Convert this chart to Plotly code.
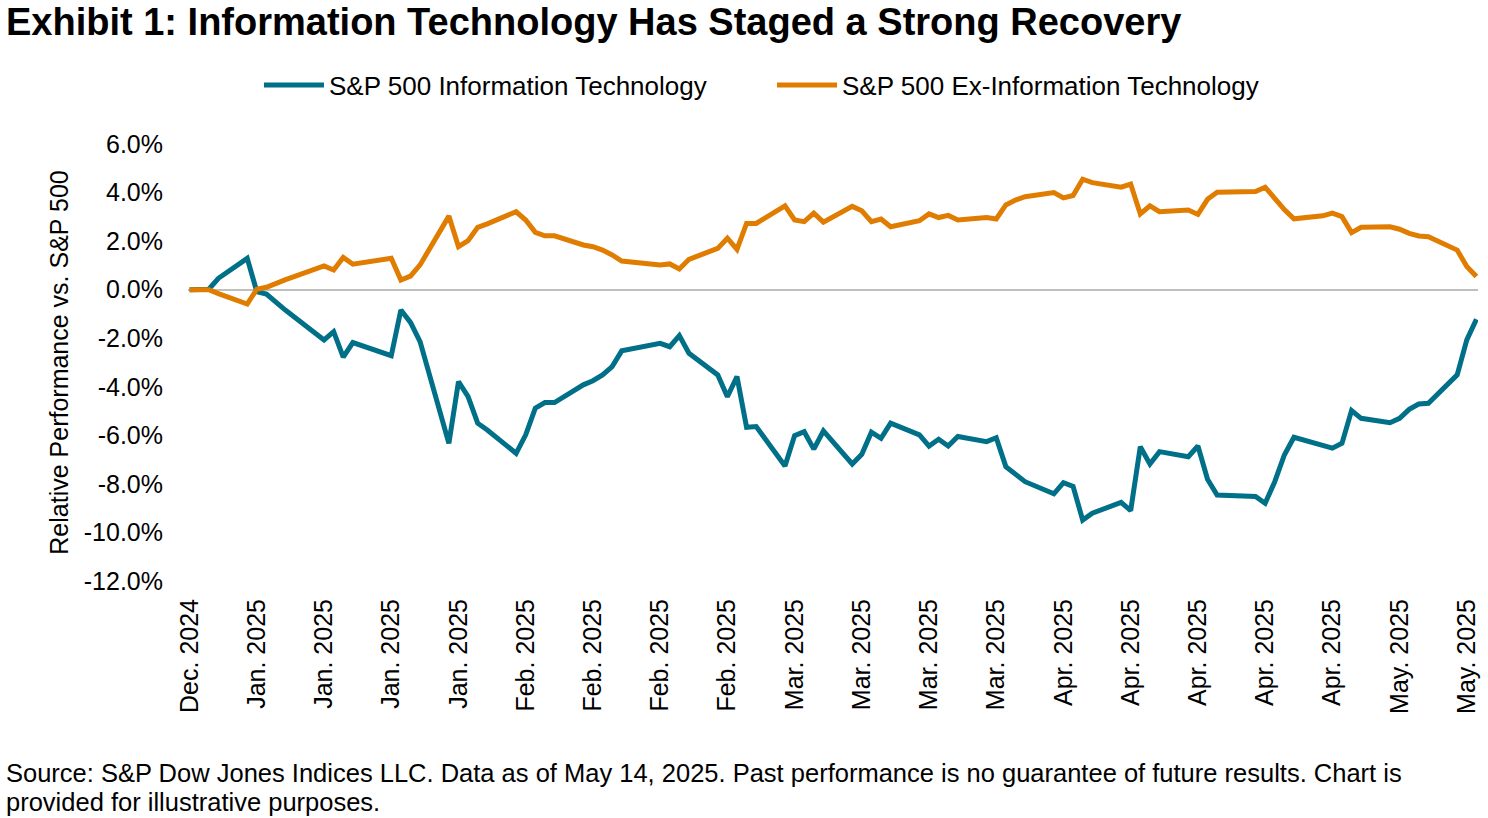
import plotly.graph_objects as go
import pandas as pd

dates = [
    "2024-12-31",
    "2025-01-02", "2025-01-03", "2025-01-06", "2025-01-07", "2025-01-08", "2025-01-10",
    "2025-01-13", "2025-01-14", "2025-01-15", "2025-01-16", "2025-01-17", "2025-01-21",
    "2025-01-22", "2025-01-23", "2025-01-24", "2025-01-27", "2025-01-28", "2025-01-29",
    "2025-01-30", "2025-01-31",
    "2025-02-03", "2025-02-04", "2025-02-05", "2025-02-06", "2025-02-07", "2025-02-10",
    "2025-02-11", "2025-02-12", "2025-02-13", "2025-02-14", "2025-02-18", "2025-02-19",
    "2025-02-20", "2025-02-21", "2025-02-24", "2025-02-25", "2025-02-26", "2025-02-27",
    "2025-02-28",
    "2025-03-03", "2025-03-04", "2025-03-05", "2025-03-06", "2025-03-07", "2025-03-10",
    "2025-03-11", "2025-03-12", "2025-03-13", "2025-03-14", "2025-03-17", "2025-03-18",
    "2025-03-19", "2025-03-20", "2025-03-21", "2025-03-24", "2025-03-25", "2025-03-26",
    "2025-03-27", "2025-03-28", "2025-03-31",
    "2025-04-01", "2025-04-02", "2025-04-03", "2025-04-04", "2025-04-07", "2025-04-08",
    "2025-04-09", "2025-04-10", "2025-04-11", "2025-04-14", "2025-04-15", "2025-04-16",
    "2025-04-17", "2025-04-21", "2025-04-22", "2025-04-23", "2025-04-24", "2025-04-25",
    "2025-04-28", "2025-04-29", "2025-04-30",
    "2025-05-01", "2025-05-02", "2025-05-05", "2025-05-06", "2025-05-07", "2025-05-08",
    "2025-05-09", "2025-05-12", "2025-05-13", "2025-05-14",
]

info_tech = [
    0.00,
    0.02, 0.47, 1.29, -0.08, -0.18, -0.85,
    -1.80, -2.07, -1.73, -2.78, -2.18, -2.72,
    -0.84, -1.35, -2.14, -6.33, -3.79, -4.41,
    -5.50, -5.78,
    -6.74, -5.98, -4.88, -4.65, -4.65, -3.92,
    -3.75, -3.51, -3.17, -2.52, -2.21, -2.35,
    -1.89, -2.62, -3.51, -4.41, -3.58, -5.67,
    -5.64,
    -7.26, -6.01, -5.85, -6.57, -5.82, -7.18,
    -6.78, -5.87, -6.12, -5.50, -5.98, -6.44,
    -6.16, -6.44, -6.05, -6.26, -6.10, -7.29,
    -7.59, -7.91, -8.41,
    -7.95, -8.10, -9.49, -9.21, -8.76, -9.10,
    -6.47, -7.18, -6.67, -6.88, -6.44, -7.81,
    -8.46, -8.52, -8.80, -7.91, -6.81, -6.08,
    -6.42, -6.53, -6.33,
    -4.98, -5.30, -5.48, -5.30, -4.93, -4.71,
    -4.68, -3.51, -2.07, -1.22,
]

ex_info_tech = [
    0.00,
    0.00, -0.16, -0.59, 0.02, 0.10, 0.41,
    0.85, 0.98, 0.81, 1.33, 1.05, 1.29,
    0.40, 0.56, 1.02, 3.03, 1.77, 2.02,
    2.57, 2.71,
    3.21, 2.87, 2.36, 2.22, 2.22, 1.84,
    1.77, 1.63, 1.43, 1.18, 1.02, 1.06,
    0.85, 1.25, 1.70, 2.12, 1.66, 2.73,
    2.73,
    3.45, 2.87, 2.80, 3.15, 2.78, 3.43,
    3.25, 2.80, 2.91, 2.59, 2.84, 3.12,
    2.97, 3.06, 2.87, 2.97, 2.91, 3.49,
    3.69, 3.83, 4.00,
    3.78, 3.88, 4.55, 4.41, 4.22, 4.35,
    3.12, 3.45, 3.21, 3.28, 3.10, 3.72,
    4.01, 4.04, 4.22, 3.76, 3.30, 2.92,
    3.04, 3.15, 3.01,
    2.35, 2.57, 2.59, 2.49, 2.32, 2.21,
    2.18, 1.63, 0.95, 0.54,
]

series_names = ["S&P 500 Information Technology", "S&P 500 Ex-Information Technology"]
series_colors = ["#006F88", "#E07C00"]

y_ticks = [6, 4, 2, 0, -2, -4, -6, -8, -10, -12]
y_tick_text = [f"{v:.1f}%" for v in y_ticks]
x_tick_dates = pd.date_range("2024-12-31", "2025-05-13", freq="7D")
x_tick_text = [d.strftime("%b. %Y") for d in x_tick_dates]

title_text = "Exhibit 1: Information Technology Has Staged a Strong Recovery"
y_title = "Relative Performance vs. S&P 500"
source_line1 = ("Source: S&P Dow Jones Indices LLC. Data as of May 14, 2025. "
                "Past performance is no guarantee of future results. Chart is")
source_line2 = "provided for illustrative purposes."

FONT = "Liberation Sans, Arial, sans-serif"
FS = 25

fig = go.Figure()
for name, vals, col in zip(series_names, [info_tech, ex_info_tech], series_colors):
    fig.add_trace(go.Scatter(
        x=dates, y=vals, name=name, mode="lines",
        line=dict(color=col, width=5),
    ))

W, H = 1488, 818
L, R, T, B = 188, 10, 144, 237
pw, ph = W - L - R, H - T - B

def px_x(x):
    return (x - L) / pw

def px_y(y):
    return (H - B - y) / ph

fig.update_layout(
    width=W, height=H,
    margin=dict(l=L, r=R, t=T, b=B, autoexpand=False),
    paper_bgcolor="white", plot_bgcolor="white",
    font=dict(family=FONT, size=FS, color="black"),
    showlegend=True,
    legend=dict(
        orientation="h", x=px_x(259), xanchor="left", y=px_y(85), yanchor="middle",
        font=dict(size=26, color="black"), itemwidth=60, tracegroupgap=0,
        entrywidth=438, entrywidthmode="pixels",
        traceorder="normal",
    ),
    title=dict(
        text="<b>" + title_text + "</b>",
        x=6 / W, xanchor="left", xref="container",
        y=1 - 22 / H, yanchor="middle", yref="container",
        font=dict(family=FONT, size=38, color="black"),
    ),
    xaxis=dict(
        type="date",
        range=["2024-12-30 20:00", "2025-05-14 04:00"],
        tickmode="array", tickvals=list(x_tick_dates), ticktext=x_tick_text,
        tickangle=-90, showgrid=False, zeroline=False, showline=False,
        ticks="", ticklabelstandoff=12,
        tickfont=dict(size=FS, color="black"),
    ),
    yaxis=dict(
        range=[-12, 6], tickmode="array", tickvals=y_ticks, ticktext=y_tick_text,
        showgrid=False, showline=False,
        zeroline=True, zerolinecolor="#BFBFBF", zerolinewidth=2,
        ticks="", ticklabelstandoff=24,
        tickfont=dict(size=FS, color="black"),
        title=dict(text=y_title, standoff=8, font=dict(size=FS, color="black")),
    ),
)

fig.add_annotation(
    text=source_line1, xref="paper", yref="paper",
    x=px_x(4), y=px_y(773), xanchor="left", yanchor="middle",
    showarrow=False, font=dict(family=FONT, size=25.5, color="black"),
)
fig.add_annotation(
    text=source_line2, xref="paper", yref="paper",
    x=px_x(4), y=px_y(802), xanchor="left", yanchor="middle",
    showarrow=False, font=dict(family=FONT, size=25.5, color="black"),
)

fig.write_html("out.html", config={"displayModeBar": False},
               post_script="document.body.style.margin='0';")
